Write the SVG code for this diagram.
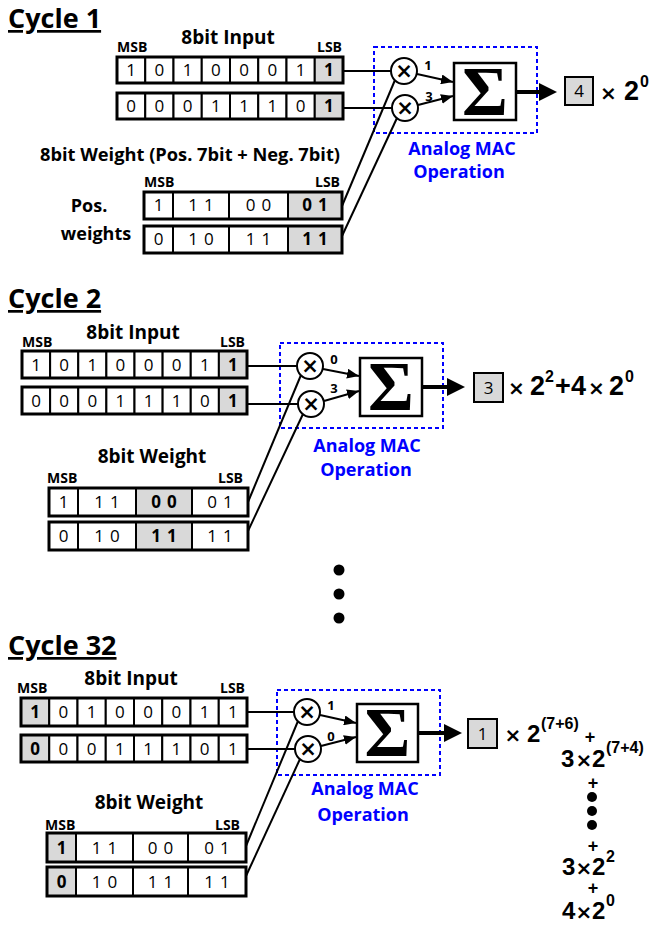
<svg xmlns="http://www.w3.org/2000/svg" width="661" height="925" viewBox="0 0 661 925">
<defs>
<style>
text{font-family:"Open Sans","Liberation Sans",sans-serif;fill:#000}
.c{fill:#fff;stroke:#000;stroke-width:2}
.g{fill:#d9d9d9;stroke:#000;stroke-width:2}
.o{fill:none;stroke:#000;stroke-width:3}
.d{font-size:17px;text-anchor:middle}
.db{font-size:17px;text-anchor:middle;font-weight:bold}
.ls{letter-spacing:6px}
.ttl{font-size:27px;font-weight:bold;text-decoration:underline}
.hd{font-size:19px;font-weight:bold;text-anchor:middle}
.sm{font-size:14px;font-weight:bold}
.end{text-anchor:end}
.blue{font-size:18px;font-weight:bold;fill:#0000ff;text-anchor:middle}
.dash{fill:none;stroke:#0000ff;stroke-width:2;stroke-dasharray:4 3}
.sig{fill:#fff;stroke:#000;stroke-width:2.5}
.sg{font-family:"Liberation Serif","DejaVu Serif",serif;font-size:70px;font-weight:bold;text-anchor:middle}
.mul{fill:#fff;stroke:#000;stroke-width:2}
.x{font-family:"DejaVu Sans",sans-serif;font-size:21px;font-weight:bold;text-anchor:middle}
.w{fill:none;stroke:#000;stroke-width:2}
.ar{fill:none;stroke:#000;stroke-width:2;marker-end:url(#ah)}
.big{fill:none;stroke:#000;stroke-width:4;marker-end:url(#ahb)}
.al{font-size:13px;font-weight:bold;text-anchor:middle}
.f{font-family:"Liberation Sans",Arial,sans-serif;font-size:27px;font-weight:bold}
.f2{font-family:"Liberation Sans",Arial,sans-serif;font-size:24px;font-weight:bold}
.mx{font-family:"DejaVu Sans",sans-serif;font-size:20px;font-weight:bold;text-anchor:middle}
.sup{font-size:16px}
.pl{font-family:"Liberation Sans",Arial,sans-serif;font-size:18px;font-weight:bold;text-anchor:middle}
</style>
<marker id="ah" viewBox="0 0 12 10" refX="12" refY="5" markerWidth="12" markerHeight="10" markerUnits="userSpaceOnUse" orient="auto"><path d="M0,0 L12,5 L0,10 z" fill="#000"/></marker>
<marker id="ahb" viewBox="0 0 18 18" refX="11" refY="9" markerWidth="18" markerHeight="18" markerUnits="userSpaceOnUse" orient="auto"><path d="M0,0 L18,9 L0,18 z" fill="#000"/></marker>
</defs>

<!-- ================= CYCLE 1 ================= -->
<g id="c1-title"><text class="ttl" x="8" y="28">Cycle 1</text></g>
<g id="c1-input-header">
<text class="hd" x="228" y="44">8bit Input</text>
<text class="sm" x="117" y="52">MSB</text>
<text class="sm end" x="342" y="52">LSB</text>
</g>
<g id="c1-input-row1">
<rect class="c" x="117" y="57" width="28.25" height="26"/><rect class="c" x="145.25" y="57" width="28.25" height="26"/><rect class="c" x="173.5" y="57" width="28.25" height="26"/><rect class="c" x="201.75" y="57" width="28.25" height="26"/><rect class="c" x="230" y="57" width="28.25" height="26"/><rect class="c" x="258.25" y="57" width="28.25" height="26"/><rect class="c" x="286.5" y="57" width="28.25" height="26"/><rect class="g" x="314.75" y="57" width="28.25" height="26"/>
<rect class="o" x="117" y="57" width="226" height="26"/>
<text class="d" x="131.1" y="76">1</text><text class="d" x="159.4" y="76">0</text><text class="d" x="187.6" y="76">1</text><text class="d" x="215.9" y="76">0</text><text class="d" x="244.1" y="76">0</text><text class="d" x="272.4" y="76">0</text><text class="d" x="300.6" y="76">1</text><text class="db" x="328.9" y="76">1</text>
</g>
<g id="c1-input-row2">
<rect class="c" x="117" y="93" width="28.25" height="26"/><rect class="c" x="145.25" y="93" width="28.25" height="26"/><rect class="c" x="173.5" y="93" width="28.25" height="26"/><rect class="c" x="201.75" y="93" width="28.25" height="26"/><rect class="c" x="230" y="93" width="28.25" height="26"/><rect class="c" x="258.25" y="93" width="28.25" height="26"/><rect class="c" x="286.5" y="93" width="28.25" height="26"/><rect class="g" x="314.75" y="93" width="28.25" height="26"/>
<rect class="o" x="117" y="93" width="226" height="26"/>
<text class="d" x="131.1" y="112">0</text><text class="d" x="159.4" y="112">0</text><text class="d" x="187.6" y="112">0</text><text class="d" x="215.9" y="112">1</text><text class="d" x="244.1" y="112">1</text><text class="d" x="272.4" y="112">1</text><text class="d" x="300.6" y="112">0</text><text class="db" x="328.9" y="112">1</text>
</g>
<g id="c1-weight-header">
<text x="40" y="161" font-size="18" font-weight="bold" textLength="300" lengthAdjust="spacingAndGlyphs">8bit Weight (Pos. 7bit + Neg. 7bit)</text>
<text class="sm" x="144" y="187">MSB</text>
<text class="sm end" x="340" y="187">LSB</text>
<text x="89" y="212" font-size="18" font-weight="bold" text-anchor="middle">Pos.</text>
<text x="96" y="240" font-size="18" font-weight="bold" text-anchor="middle">weights</text>
</g>
<g id="c1-weight-row1">
<rect class="c" x="144" y="192" width="29" height="27"/><rect class="c" x="173" y="192" width="56" height="27"/><rect class="c" x="229" y="192" width="59" height="27"/><rect class="g" x="288" y="192" width="54" height="27"/>
<rect class="o" x="144" y="192" width="198" height="27"/>
<text class="d" x="158.5" y="211">1</text><text class="d ls" x="204" y="211">11</text><text class="d ls" x="261.5" y="211">00</text><text class="db ls" x="318" y="211">01</text>
</g>
<g id="c1-weight-row2">
<rect class="c" x="144" y="226" width="29" height="27"/><rect class="c" x="173" y="226" width="56" height="27"/><rect class="c" x="229" y="226" width="59" height="27"/><rect class="g" x="288" y="226" width="54" height="27"/>
<rect class="o" x="144" y="226" width="198" height="27"/>
<text class="d" x="158.5" y="245">0</text><text class="d ls" x="204" y="245">10</text><text class="d ls" x="261.5" y="245">11</text><text class="db ls" x="318" y="245">11</text>
</g>
<g id="c1-mac">
<rect class="dash" x="374" y="47" width="163" height="86"/>
<text class="blue" x="462" y="155">Analog MAC</text>
<text class="blue" x="459" y="178">Operation</text>
</g>
<g id="c1-mul1"><circle class="mul" cx="404" cy="71" r="13"/><text class="x" x="404" y="78">×</text></g>
<g id="c1-mul2"><circle class="mul" cx="405" cy="108" r="13"/><text class="x" x="405" y="115">×</text></g>
<g id="c1-sum"><rect class="sig" x="454" y="63" width="62" height="57"/><text class="sg" x="485" y="115">Σ</text></g>
<g id="c1-out">
<rect class="g" x="565" y="77" width="28" height="28"/><text class="d" x="579" y="97">4</text>
<text class="f" y="100"><tspan class="mx" x="608.5">×</tspan><tspan x="624">2</tspan><tspan class="sup" x="640" y="87">0</tspan></text>
</g>

<!-- ================= CYCLE 2 ================= -->
<g id="c2-title"><text class="ttl" x="8" y="308">Cycle 2</text></g>
<g id="c2-input-header">
<text class="hd" x="133" y="339">8bit Input</text>
<text class="sm" x="22" y="347">MSB</text>
<text class="sm end" x="245" y="347">LSB</text>
</g>
<g id="c2-input-row1">
<rect class="c" x="22" y="351" width="28.125" height="27"/><rect class="c" x="50.125" y="351" width="28.125" height="27"/><rect class="c" x="78.25" y="351" width="28.125" height="27"/><rect class="c" x="106.375" y="351" width="28.125" height="27"/><rect class="c" x="134.5" y="351" width="28.125" height="27"/><rect class="c" x="162.625" y="351" width="28.125" height="27"/><rect class="c" x="190.75" y="351" width="28.125" height="27"/><rect class="g" x="218.875" y="351" width="28.125" height="27"/>
<rect class="o" x="22" y="351" width="225" height="27"/>
<text class="d" x="36.1" y="371">1</text><text class="d" x="64.2" y="371">0</text><text class="d" x="92.3" y="371">1</text><text class="d" x="120.4" y="371">0</text><text class="d" x="148.6" y="371">0</text><text class="d" x="176.7" y="371">0</text><text class="d" x="204.8" y="371">1</text><text class="db" x="232.9" y="371">1</text>
</g>
<g id="c2-input-row2">
<rect class="c" x="22" y="387" width="28.125" height="27"/><rect class="c" x="50.125" y="387" width="28.125" height="27"/><rect class="c" x="78.25" y="387" width="28.125" height="27"/><rect class="c" x="106.375" y="387" width="28.125" height="27"/><rect class="c" x="134.5" y="387" width="28.125" height="27"/><rect class="c" x="162.625" y="387" width="28.125" height="27"/><rect class="c" x="190.75" y="387" width="28.125" height="27"/><rect class="g" x="218.875" y="387" width="28.125" height="27"/>
<rect class="o" x="22" y="387" width="225" height="27"/>
<text class="d" x="36.1" y="407">0</text><text class="d" x="64.2" y="407">0</text><text class="d" x="92.3" y="407">0</text><text class="d" x="120.4" y="407">1</text><text class="d" x="148.6" y="407">1</text><text class="d" x="176.7" y="407">1</text><text class="d" x="204.8" y="407">0</text><text class="db" x="232.9" y="407">1</text>
</g>
<g id="c2-weight-header">
<text class="hd" x="152" y="463">8bit Weight</text>
<text class="sm" x="47" y="483">MSB</text>
<text class="sm end" x="243" y="483">LSB</text>
</g>
<g id="c2-weight-row1">
<rect class="c" x="49" y="488" width="29" height="28"/><rect class="c" x="78" y="488" width="58" height="28"/><rect class="g" x="136" y="488" width="56" height="28"/><rect class="c" x="192" y="488" width="56" height="28"/>
<rect class="o" x="49" y="488" width="199" height="28"/>
<text class="d" x="63.5" y="508">1</text><text class="d ls" x="110" y="508">11</text><text class="db ls" x="167" y="508">00</text><text class="d ls" x="223" y="508">01</text>
</g>
<g id="c2-weight-row2">
<rect class="c" x="49" y="522" width="29" height="28"/><rect class="c" x="78" y="522" width="58" height="28"/><rect class="g" x="136" y="522" width="56" height="28"/><rect class="c" x="192" y="522" width="56" height="28"/>
<rect class="o" x="49" y="522" width="199" height="28"/>
<text class="d" x="63.5" y="542">0</text><text class="d ls" x="110" y="542">10</text><text class="db ls" x="167" y="542">11</text><text class="d ls" x="223" y="542">11</text>
</g>
<g id="c2-mac">
<rect class="dash" x="280" y="343" width="163" height="85"/>
<text class="blue" x="367" y="452">Analog MAC</text>
<text class="blue" x="366" y="476">Operation</text>
</g>
<g id="c2-mul1"><circle class="mul" cx="310" cy="366" r="13"/><text class="x" x="310" y="373">×</text></g>
<g id="c2-mul2"><circle class="mul" cx="311" cy="404" r="13"/><text class="x" x="311" y="411">×</text></g>
<g id="c2-sum"><rect class="sig" x="360" y="358" width="62" height="58"/><text class="sg" x="391" y="410">Σ</text></g>
<g id="c2-out">
<rect class="g" x="474" y="373" width="29" height="29"/><text class="d" x="488.5" y="394">3</text>
<text class="f" y="395"><tspan class="mx" x="516.5">×</tspan><tspan x="530">2</tspan><tspan class="sup" x="545" y="382">2</tspan><tspan x="555" y="395">+</tspan><tspan x="571">4</tspan><tspan class="mx" x="596.5">×</tspan><tspan x="609">2</tspan><tspan class="sup" x="625" y="382">0</tspan></text>
</g>

<!-- ================= ELLIPSIS ================= -->
<g id="ellipsis">
<circle cx="339" cy="570" r="5.5"/><circle cx="339" cy="594" r="5.5"/><circle cx="339" cy="618" r="5.5"/>
</g>

<!-- ================= CYCLE 32 ================= -->
<g id="c32-title"><text class="ttl" x="8" y="655">Cycle 32</text></g>
<g id="c32-input-header">
<text class="hd" x="131" y="685">8bit Input</text>
<text class="sm" x="17" y="693">MSB</text>
<text class="sm end" x="245" y="693">LSB</text>
</g>
<g id="c32-input-row1">
<rect class="g" x="21" y="698" width="28.25" height="28"/><rect class="c" x="49.25" y="698" width="28.25" height="28"/><rect class="c" x="77.5" y="698" width="28.25" height="28"/><rect class="c" x="105.75" y="698" width="28.25" height="28"/><rect class="c" x="134" y="698" width="28.25" height="28"/><rect class="c" x="162.25" y="698" width="28.25" height="28"/><rect class="c" x="190.5" y="698" width="28.25" height="28"/><rect class="c" x="218.75" y="698" width="28.25" height="28"/>
<rect class="o" x="21" y="698" width="226" height="28"/>
<text class="db" x="35.1" y="718">1</text><text class="d" x="63.4" y="718">0</text><text class="d" x="91.6" y="718">1</text><text class="d" x="119.9" y="718">0</text><text class="d" x="148.1" y="718">0</text><text class="d" x="176.4" y="718">0</text><text class="d" x="204.6" y="718">1</text><text class="d" x="232.9" y="718">1</text>
</g>
<g id="c32-input-row2">
<rect class="g" x="21" y="735" width="28.25" height="27"/><rect class="c" x="49.25" y="735" width="28.25" height="27"/><rect class="c" x="77.5" y="735" width="28.25" height="27"/><rect class="c" x="105.75" y="735" width="28.25" height="27"/><rect class="c" x="134" y="735" width="28.25" height="27"/><rect class="c" x="162.25" y="735" width="28.25" height="27"/><rect class="c" x="190.5" y="735" width="28.25" height="27"/><rect class="c" x="218.75" y="735" width="28.25" height="27"/>
<rect class="o" x="21" y="735" width="226" height="27"/>
<text class="db" x="35.1" y="755">0</text><text class="d" x="63.4" y="755">0</text><text class="d" x="91.6" y="755">0</text><text class="d" x="119.9" y="755">1</text><text class="d" x="148.1" y="755">1</text><text class="d" x="176.4" y="755">1</text><text class="d" x="204.6" y="755">0</text><text class="d" x="232.9" y="755">1</text>
</g>
<g id="c32-weight-header">
<text class="hd" x="149" y="809">8bit Weight</text>
<text class="sm" x="45" y="830">MSB</text>
<text class="sm end" x="240" y="830">LSB</text>
</g>
<g id="c32-weight-row1">
<rect class="g" x="47" y="833" width="29" height="29"/><rect class="c" x="76" y="833" width="57" height="29"/><rect class="c" x="133" y="833" width="55" height="29"/><rect class="c" x="188" y="833" width="58" height="29"/>
<rect class="o" x="47" y="833" width="199" height="29"/>
<text class="db" x="61.5" y="854">1</text><text class="d ls" x="107.5" y="854">11</text><text class="d ls" x="163.5" y="854">00</text><text class="d ls" x="220" y="854">01</text>
</g>
<g id="c32-weight-row2">
<rect class="g" x="47" y="867" width="29" height="29"/><rect class="c" x="76" y="867" width="57" height="29"/><rect class="c" x="133" y="867" width="55" height="29"/><rect class="c" x="188" y="867" width="58" height="29"/>
<rect class="o" x="47" y="867" width="199" height="29"/>
<text class="db" x="61.5" y="888">0</text><text class="d ls" x="107.5" y="888">10</text><text class="d ls" x="163.5" y="888">11</text><text class="d ls" x="220" y="888">11</text>
</g>
<g id="c32-mac">
<rect class="dash" x="277" y="690" width="163" height="85"/>
<text class="blue" x="365" y="795">Analog MAC</text>
<text class="blue" x="363" y="821">Operation</text>
</g>
<g id="c32-mul1"><circle class="mul" cx="307" cy="712" r="13"/><text class="x" x="307" y="719">×</text></g>
<g id="c32-mul2"><circle class="mul" cx="308" cy="749" r="13"/><text class="x" x="308" y="756">×</text></g>
<g id="c32-sum"><rect class="sig" x="357" y="704" width="61" height="58"/><text class="sg" x="387.5" y="756">Σ</text></g>
<g id="c32-out">
<rect class="g" x="468" y="719" width="29" height="29"/><text class="d" x="482.5" y="740">1</text>
<text class="f2" y="742"><tspan class="mx" x="513">×</tspan><tspan x="527">2</tspan><tspan class="sup" x="541" y="729">(7+6)</tspan></text>
<text class="pl" x="590" y="743">+</text>
<text class="f2" y="767"><tspan x="561">3</tspan><tspan class="mx" x="584">×</tspan><tspan x="592">2</tspan><tspan class="sup" x="606" y="753">(7+4)</tspan></text>
<text class="pl" x="593" y="789">+</text>
<circle cx="592" cy="797" r="5"/><circle cx="592" cy="811" r="5"/><circle cx="592" cy="825" r="5"/>
<text class="pl" x="593" y="852">+</text>
<text class="f2" y="875"><tspan x="562">3</tspan><tspan class="mx" x="584">×</tspan><tspan x="592">2</tspan><tspan class="sup" x="606" y="862">2</tspan></text>
<text class="pl" x="593" y="894">+</text>
<text class="f2" y="919"><tspan x="562">4</tspan><tspan class="mx" x="584">×</tspan><tspan x="592">2</tspan><tspan class="sup" x="606" y="906">0</tspan></text>
</g>

<!-- ================= CONNECTORS ================= -->
<g id="connectors">
<path class="w" d="M343,71 H391"/>
<path class="w" d="M343,108 H392"/>
<path class="w" d="M342,206 L395,80"/>
<path class="w" d="M342,236 L397,118"/>
<path class="ar" d="M417,74 L453,82"/>
<path class="ar" d="M418,105 L453,96"/>
<path class="big" d="M516,92 H550"/>
<text class="al" x="428" y="70">1</text>
<text class="al" x="429" y="101">3</text>

<path class="w" d="M247,366 H297"/>
<path class="w" d="M247,404 H298"/>
<path class="w" d="M248,502 L301,375"/>
<path class="w" d="M248,531 L303,414"/>
<path class="ar" d="M323,369 L359,376"/>
<path class="ar" d="M324,401 L359,391"/>
<path class="big" d="M422,387 H458"/>
<text class="al" x="334" y="364">0</text>
<text class="al" x="334" y="393">3</text>

<path class="w" d="M247,712 H294"/>
<path class="w" d="M247,749 H295"/>
<path class="w" d="M246,846 L298,721"/>
<path class="w" d="M246,876 L300,759"/>
<path class="ar" d="M320,715 L356,723"/>
<path class="ar" d="M321,746 L356,737"/>
<path class="big" d="M418,733 H455"/>
<text class="al" x="331" y="710">1</text>
<text class="al" x="331" y="741">0</text>
</g>
</svg>
